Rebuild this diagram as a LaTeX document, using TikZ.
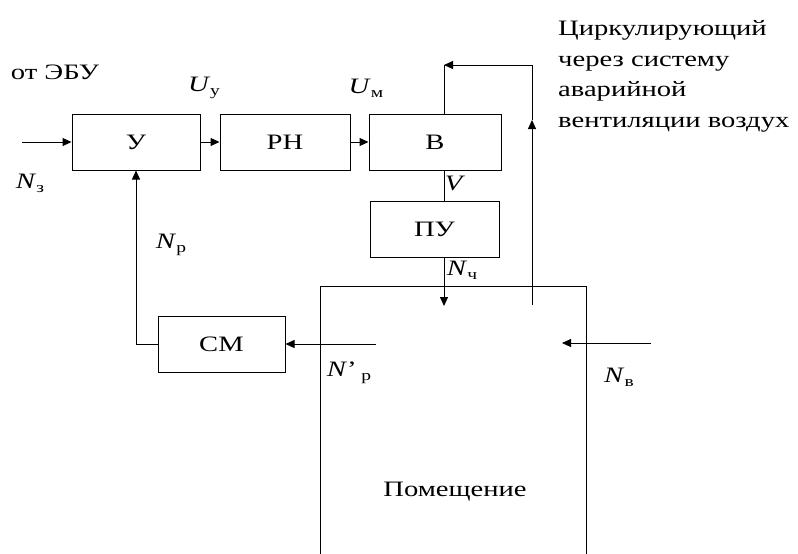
\documentclass[tikz,border=0pt]{standalone}
\usepackage{fontspec}
\usepackage{graphicx}
\setmainfont{Liberation Serif}
\usetikzlibrary{arrows.meta}
\newcommand{\sx}[1]{\scalebox{1.3}[1]{#1}}
\newcommand{\vsub}[2]{\sx{\textit{#1}\raisebox{-0.4ex}{\fontsize{15}{15}\selectfont #2}}}
\tikzset{
  blk/.style={draw, line width=1pt, minimum height=56pt, inner sep=0pt, font=\fontsize{22}{22}\selectfont},
  lbl/.style={inner sep=0pt, font=\fontsize{22}{22}\selectfont},
  arr/.style={line width=1pt, -{Triangle[length=9pt,width=8pt]}},
  ln/.style={line width=1pt},
}
\begin{document}
\begin{tikzpicture}[x=1pt,y=-1pt]
\useasboundingbox (0,0) rectangle (798,554);
% blocks
\node[blk, minimum width=128pt] (U)  at (136,142) {\sx{У}};
\node[blk, minimum width=130pt] (RN) at (285,142) {\sx{РН}};
\node[blk, minimum width=132pt] (B)  at (435,142) {\sx{В}};
\node[blk, minimum width=129pt] (PU) at (434.5,229) {\sx{ПУ}};
\node[blk, minimum width=127pt] (SM) at (221.5,344) {\sx{СМ}};
% free ends
\coordinate (in)     at (22,142);
\coordinate (vx)     at (444,0);
\coordinate (nch)    at (444,306);
\coordinate (ret)    at (532,305);
\coordinate (retm)   at (532,120);
\coordinate (rettop) at (532,65);
\coordinate (corner) at (444,65);
\coordinate (nvs)    at (651,343);
\coordinate (nve)    at (562,343);
\coordinate (nrs)    at (376,344);
\coordinate (roomBL) at (320,554);
\coordinate (roomTL) at (320,286);
\coordinate (roomTR) at (586,286);
\coordinate (roomBR) at (586,554);
% room
\draw[ln] (roomBL) -- (roomTL) -- (roomTR) -- (roomBR);
\node[lbl] (room) at (455,492) {\sx{Помещение}};
% connectors
\draw[arr] (in) -- (U.west);
\draw[arr] (U.east) -- (RN.west);
\draw[arr] (RN.east) -- (B.west);
\draw[ln] (B.south -| vx) -- (PU.north -| vx);
\draw[arr] (PU.south -| vx) -- (nch);
\draw[arr] (ret) -- (retm);
\draw[arr] (retm) -- (rettop) -- (corner);
\draw[ln] (corner) -- (B.north -| corner);
\draw[arr] (nvs) -- (nve);
\draw[arr] (nrs) -- (SM.east);
\draw[arr] (SM.west) -- (SM.west -| U.south) -- (U.south);
% labels
\node[lbl] (ebu) at (55,72) {\sx{от ЭБУ}};
\node[lbl] (Nz) at (30,183) {\vsub{N}{з}};
\node[lbl] (Uy) at (204,88) {\vsub{U}{у}};
\node[lbl] (Um) at (366,88) {\vsub{U}{м}};
\node[lbl] (V) at (455,183) {\sx{\textit{V}}};
\node[lbl] (Nch) at (462,270) {\vsub{N}{ч}};
\node[lbl] (Np) at (171,245) {\vsub{N}{р}};
\node[lbl] (Npp) at (349,373) {\sx{\textit{N}’\,\raisebox{-0.4ex}{\fontsize{15}{15}\selectfont р}}};
\node[lbl] (Nv) at (619,377) {\vsub{N}{в}};
\node[lbl, anchor=north west, font=\fontsize{22}{30.5}\selectfont] (circ) at (558,14)
  {\sx{\begin{tabular}{@{}l@{}}Циркулирующий\\через систему\\аварийной\\вентиляции воздух\end{tabular}}};
\end{tikzpicture}
\end{document}
